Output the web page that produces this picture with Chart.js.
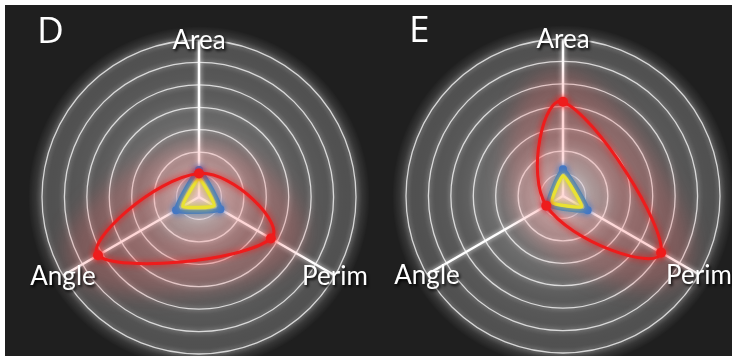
<!DOCTYPE html>
<html lang="en">
<head>
  <meta charset="UTF-8" />
  <title>Shape Radar D / E</title>
  <script src="https://cdn.jsdelivr.net/npm/chart.js"></script>
  <style>
    html, body {
      margin: 0;
      padding: 0;
      width: 732px;
      height: 356px;
      overflow: hidden;
      background: #ffffff;
    }
    #backdrop {
      position: absolute;
      left: 5px;
      top: 5px;
      right: 0;
      bottom: 0;
      background: #1f1f1f;
    }
    .panel {
      position: absolute;
      top: 0;
      width: 400px;
      height: 356px;
    }
    .tag {
      position: absolute;
      font-family: 'Open Sans', 'Lato', sans-serif;
      font-weight: 400;
      font-size: 37px;
      line-height: 38px;
      color: #ffffff;
    }
  </style>
</head>
<body>
  <div id="backdrop"></div>
  <div class="panel" style="left:-1px"><canvas id="chartD" width="400" height="356"></canvas></div>
  <div class="panel" style="left:363px"><canvas id="chartE" width="400" height="356"></canvas></div>
  <div class="tag" style="left:37px; top:10px">D</div>
  <div class="tag" style="left:409px; top:9px">E</div>

  <script>
    // axes of the radar (clockwise from the top)
    const axisLabels = ['Area', 'Perim', 'Angle'];
    const scaleMax = 7;
    const scaleStep = 1;

    // panel D
    const redD = [1.05, 3.7, 5.2];
    const yellowD = [0.8, 0.78, 0.83];
    const blueD = [1.2, 1.1, 1.18];

    // panel E
    const redE = [4.2, 5.05, 0.86];
    const yellowE = [0.9, 0.96, 0.56];
    const blueE = [1.19, 1.27, 0.77];

    const RED = '#ee1c1c';
    const YELLOW = '#e8e830';
    const BLUE = '#3b78c8';

    // soft white disc behind the grid + glow for the rings
    const backdropPlugin = {
      id: 'backdrop',
      beforeDraw(chart) {
        const s = chart.scales.r;
        const ctx = chart.ctx;
        const R = s.drawingArea;
        const g = ctx.createRadialGradient(s.xCenter, s.yCenter, 0, s.xCenter, s.yCenter, R + 14);
        g.addColorStop(0, 'rgba(255,255,255,0.8)');
        g.addColorStop(0.12, 'rgba(255,255,255,0.64)');
        g.addColorStop(0.35, 'rgba(255,255,255,0.38)');
        g.addColorStop(0.6, 'rgba(255,255,255,0.27)');
        g.addColorStop(0.9, 'rgba(255,255,255,0.22)');
        g.addColorStop(1, 'rgba(255,255,255,0)');
        ctx.save();
        ctx.fillStyle = g;
        ctx.beginPath();
        ctx.arc(s.xCenter, s.yCenter, R + 14, 0, Math.PI * 2);
        ctx.fill();
        ctx.restore();
        // grid gets a glow, removed again before the datasets
        ctx.save();
        ctx.shadowColor = 'rgba(255,255,255,0.9)';
        ctx.shadowBlur = 5;
      },
      beforeDatasetsDraw(chart) {
        const ctx = chart.ctx;
        ctx.restore();
        // wide pink haze along the red outline
        const line = chart.getDatasetMeta(0).dataset;
        line.updateControlPoints(chart.chartArea, 'r');
        ctx.save();
        ctx.filter = 'blur(10px)';
        ctx.strokeStyle = 'rgba(255,110,110,0.24)';
        ctx.lineWidth = 62;
        ctx.lineJoin = 'round';
        ctx.beginPath();
        if (line.path(ctx)) ctx.closePath();
        ctx.stroke();
        ctx.restore();
      },
      beforeDatasetDraw(chart, args) {
        const ctx = chart.ctx;
        ctx.save();
        ctx.shadowColor = args.meta.dataset.options.borderColor;
        ctx.shadowBlur = 6;
      },
      afterDatasetDraw(chart) {
        chart.ctx.restore();
      },
      afterDatasetsDraw(chart) {
        const s = chart.scales.r;
        const ctx = chart.ctx;
        const size = 26;
        ctx.save();
        ctx.font = size + 'px Lato, "Open Sans", sans-serif';
        ctx.fillStyle = '#ffffff';
        ctx.textAlign = 'center';
        ctx.textBaseline = 'alphabetic';
        ctx.shadowColor = 'rgba(0,0,0,0.95)';
        ctx.shadowOffsetX = 1.5;
        ctx.shadowOffsetY = 2;
        ctx.shadowBlur = 3;
        axisLabels.forEach((lbl, i) => {
          const p = s.getPointPositionForValue(i, scaleMax);
          ctx.fillText(lbl, p.x, p.y + size * 0.36);
        });
        ctx.restore();
      }
    };

    function makeRadar(id, red, yellow, blue, padTop) {
      const ctx = document.getElementById(id).getContext('2d');
      return new Chart(ctx, {
        type: 'radar',
        data: {
          labels: axisLabels,
          datasets: [
            {
              data: red,
              borderColor: RED,
              backgroundColor: 'rgba(255,120,120,0.05)',
              fill: true,
              borderWidth: 3,
              tension: 0.45,
              pointRadius: 5,
              pointBackgroundColor: RED,
              pointBorderWidth: 0
            },
            {
              data: yellow,
              borderColor: YELLOW,
              backgroundColor: 'rgba(0,0,0,0)',
              fill: false,
              borderWidth: 3.5,
              tension: 0.15,
              pointRadius: 0
            },
            {
              data: blue,
              borderColor: BLUE,
              backgroundColor: 'rgba(0,0,0,0)',
              fill: false,
              borderWidth: 4,
              tension: 0.15,
              pointRadius: 4,
              pointBackgroundColor: BLUE,
              pointBorderWidth: 0
            }
          ]
        },
        options: {
          responsive: false,
          animation: false,
          layout: { padding: { top: padTop, bottom: 42 - padTop, left: 0, right: 0 } },
          elements: { line: { borderJoinStyle: 'round' } },
          plugins: {
            legend: { display: false },
            tooltip: { enabled: false }
          },
          scales: {
            r: {
              min: 0,
              max: scaleMax,
              ticks: { display: false, stepSize: scaleStep },
              grid: { circular: true, color: 'rgba(255,255,255,0.75)', lineWidth: 1.3 },
              angleLines: { color: '#ffffff', lineWidth: 2.5 },
              pointLabels: { display: false }
            }
          }
        },
        plugins: [backdropPlugin]
      });
    }

    makeRadar('chartD', redD, yellowD, blueD, 40);
    makeRadar('chartE', redE, yellowE, blueE, 39);
  </script>
</body>
</html>
